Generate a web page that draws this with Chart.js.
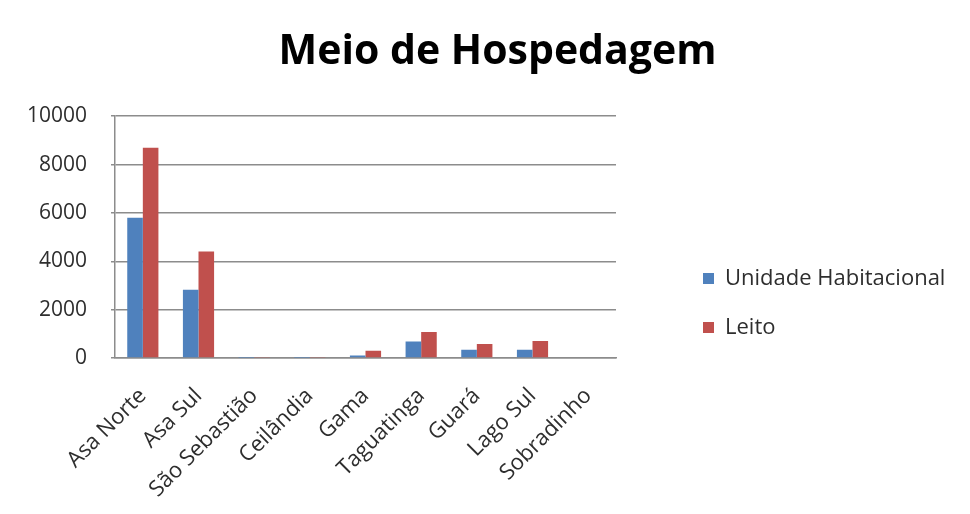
<!DOCTYPE html>
<html>
<head>
<meta charset="utf-8">
<title>Meio de Hospedagem</title>
<script src="https://cdn.jsdelivr.net/npm/chart.js@4.4.1/dist/chart.umd.min.js"></script>
<style>
  html, body { margin: 0; padding: 0; background: #fff; }
  #wrap { width: 970px; height: 514px; }
</style>
</head>
<body>
<div id="wrap"><canvas id="chart"></canvas></div>
<script>
// values
const categories = ['Asa Norte', 'Asa Sul', 'São Sebastião', 'Ceilândia', 'Gama', 'Taguatinga', 'Guará', 'Lago Sul', 'Sobradinho']
const unidadeHabitacional = [5800, 2820, 10, 10, 100, 680, 340, 340, 0]
const leito = [8700, 4400, 40, 40, 300, 1080, 580, 700, 0]
const yTicks = [0, 2000, 4000, 6000, 8000, 10000]

const BLUE = '#4F81BD'
const RED = '#C0504D'
const GRID = '#8c8c8c'
const TEXT = '#2e2e2e'
const FONT = '"Open Sans", "Noto Sans", sans-serif'

// legend placement: keep the plot narrow and move the legend items to the right
const LEGEND_WIDTH = 354
const LEGEND_SHIFT_X = 60
const LEGEND_SHIFT_Y = 46

const legendPlacement = {
  id: 'legendPlacement',
  beforeUpdate(chart) {
    const legend = chart.legend
    if (!legend || legend.__patched) {
      return
    }
    const fit = legend.fit
    legend.fit = function () {
      fit.call(this)
      this.width = LEGEND_WIDTH
    }
    legend.__patched = true
  },
  afterLayout(chart) {
    const legend = chart.legend
    legend.left += LEGEND_SHIFT_X
    legend.right += LEGEND_SHIFT_X
    legend.top += LEGEND_SHIFT_Y
    legend.bottom += LEGEND_SHIFT_Y
  },
}

new Chart(document.getElementById('chart'), {
  type: 'bar',
  data: {
    labels: categories,
    datasets: [
      { label: 'Unidade Habitacional', data: unidadeHabitacional, backgroundColor: BLUE },
      { label: 'Leito', data: leito, backgroundColor: RED },
    ],
  },
  options: {
    responsive: true,
    maintainAspectRatio: false,
    animation: false,
    layout: { padding: { left: 25, right: 0, top: 0, bottom: 0 } },
    datasets: {
      bar: { barPercentage: 1, categoryPercentage: 0.56 },
    },
    plugins: {
      title: {
        display: true,
        text: 'Meio de Hospedagem',
        color: '#000',
        font: { family: FONT, size: 41, weight: 'bold' },
        padding: { top: 28, bottom: 39 },
      },
      legend: {
        position: 'right',
        align: 'center',
        labels: {
          boxWidth: 11,
          boxHeight: 11,
          padding: 27,
          color: TEXT,
          font: { family: FONT, size: 22 },
        },
      },
      tooltip: { enabled: false },
    },
    scales: {
      x: {
        grid: { display: false },
        border: { display: true, color: GRID, width: 1.5 },
        ticks: {
          color: TEXT,
          font: { family: FONT, size: 22 },
          minRotation: 45,
          maxRotation: 45,
          padding: 17,
          autoSkip: false,
        },
        afterFit(scale) {
          scale.height = 156
        },
      },
      y: {
        min: 0,
        max: 10000,
        afterBuildTicks(scale) {
          scale.ticks = yTicks.map((v) => ({ value: v }))
        },
        grid: { color: GRID, lineWidth: 1.5, tickLength: 4 },
        border: { display: true, color: GRID, width: 1.5 },
        ticks: {
          color: TEXT,
          font: { family: FONT, size: 21 },
          padding: 24,
          callback: (value) => String(value),
        },
        afterFit(scale) {
          scale.width = 90
        },
      },
    },
  },
  plugins: [legendPlacement],
})
</script>
</body>
</html>
